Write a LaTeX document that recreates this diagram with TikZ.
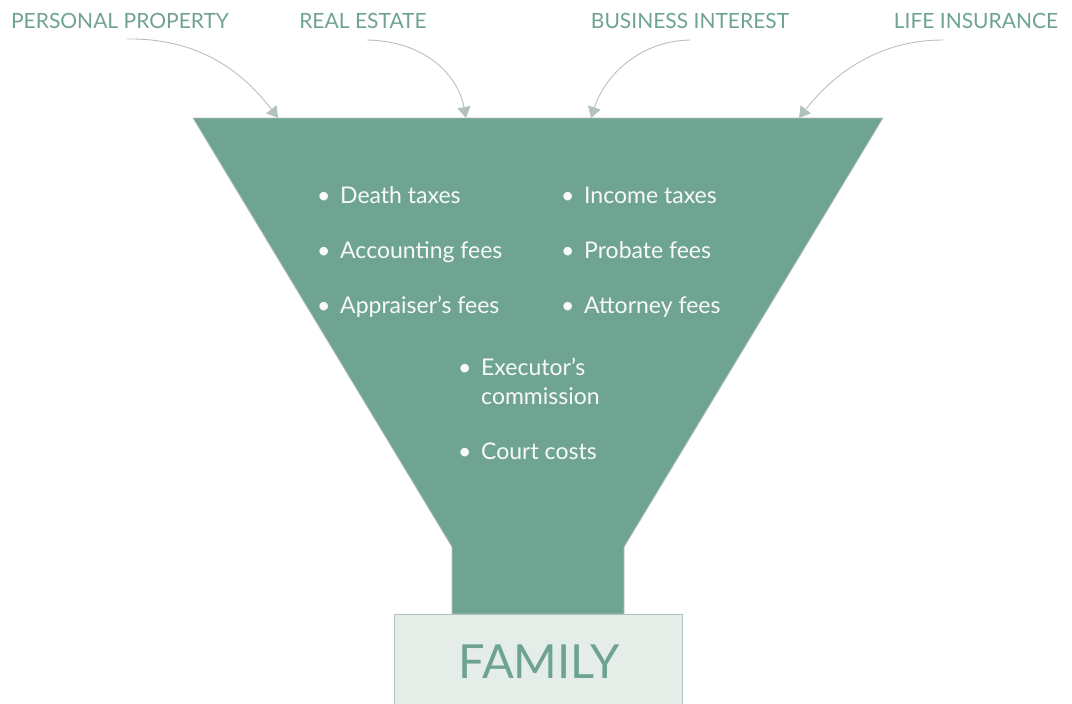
\documentclass[tikz,border=0pt]{standalone}
\usepackage{fontspec}
\setmainfont{Lato}
\usetikzlibrary{arrows.meta}
\definecolor{funnel}{HTML}{70A492}
\definecolor{labgreen}{HTML}{6FA391}
\definecolor{arrgrey}{HTML}{B4C2BC}
\definecolor{boxfill}{HTML}{E4EDE8}
\definecolor{bultext}{HTML}{F7FAF8}
\tikzset{
  toplabel/.style={text=labgreen, font=\fontsize{21}{25}\selectfont, inner sep=0pt, anchor=base},
  feed/.style={draw=arrgrey, line width=0.9pt, -{Triangle[length=11pt,width=13pt]}},
  item/.style={text=bultext, font=\fontsize{23}{29}\selectfont, inner sep=0pt, anchor=base west, align=left},
}
\newcommand{\bul}{\makebox[23pt][l]{•}}
\begin{document}
\begin{tikzpicture}[x=1pt,y=-1pt]
\useasboundingbox (0,0) rectangle (1072,704);
% funnel
\path[fill=funnel, draw=arrgrey, line width=0.8pt]
  (193,118) -- (883,118) -- (624,547) -- (624,614) -- (452,614) -- (452,547) -- cycle;
% family box
\node[draw=arrgrey, fill=boxfill, line width=0.8pt, minimum width=288pt, minimum height=92pt, anchor=north, inner sep=0pt] (fam) at (538,614) {};
\node[text=labgreen, font=\fontsize{47}{55}\selectfont, inner sep=0pt, anchor=base] (famtxt) at (539,678) {FAMILY};
% top labels
\node[toplabel] (pp) at (120,28) {PERSONAL PROPERTY};
\node[toplabel] (re) at (363,28) {REAL ESTATE};
\node[toplabel] (bi) at (690,28) {BUSINESS INTEREST};
\node[toplabel] (li) at (976,28) {LIFE INSURANCE};
% arrow end points
\coordinate (pps) at (127,39);
\coordinate (ppe) at (278,118);
\coordinate (res) at (367,40);
\coordinate (ree) at (466,118);
\coordinate (bis) at (690,40);
\coordinate (bie) at (591,118);
\coordinate (lis) at (943,40);
\coordinate (lie) at (799,118);
\draw[feed] (pps) .. controls (195,38) and (240,68) .. (ppe);
\draw[feed] (res) .. controls (425,41) and (458,75) .. (ree);
\draw[feed] (bis) .. controls (640,41) and (605,75) .. (bie);
\draw[feed] (lis) .. controls (880,40) and (835,72) .. (lie);
% items
\node[item] (i1) at (317,203) {\bul Death taxes};
\node[item] (i2) at (317,258) {\bul Accounting fees};
\node[item] (i3) at (317,313) {\bul Appraiser’s fees};
\node[item] (i4) at (561,203) {\bul Income taxes};
\node[item] (i5) at (561,258) {\bul Probate fees};
\node[item] (i6) at (561,313) {\bul Attorney fees};
\node[item] (i7) at (458,404) {\bul Executor’s\\\hspace*{23pt}commission};
\node[item] (i8) at (458,459) {\bul Court costs};
\end{tikzpicture}
\end{document}
